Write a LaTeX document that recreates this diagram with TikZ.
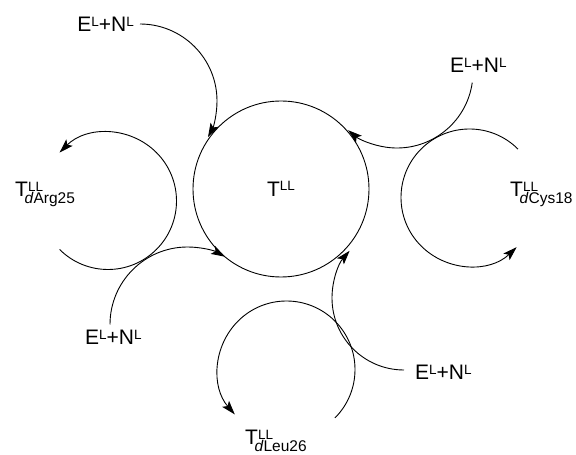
\documentclass[tikz,border=0pt]{standalone}
\usepackage{fontspec}
\setmainfont{Liberation Sans}
\usetikzlibrary{arrows.meta}
\newcommand{\supL}[1]{\raisebox{5.3pt}{\fontsize{13.5}{16}\selectfont #1}}
\newcommand{\subL}[1]{\raisebox{-7pt}{\fontsize{15.5}{18}\selectfont #1}}
\newcommand{\EN}{E\supL{L}+N\supL{L}}
\newcommand{\Tmut}[1]{T\rlap{\supL{LL}}\kern-3.5pt\subL{\textit{d}#1}}
\begin{document}
\begin{tikzpicture}[x=1pt,y=1pt,
  lab/.style={inner sep=0pt, font=\fontsize{21}{25}\selectfont},
  flow/.style={line width=0.9pt, -{Stealth[length=14pt,width=9pt,inset=3pt]}},
  ring/.style={line width=0.9pt}]
\useasboundingbox (0,0) rectangle (576,455);
% main cycle
\node[ring, draw, circle, minimum size=176pt, inner sep=0pt, font=\fontsize{21}{25}\selectfont] (T) at (281,266) {T\supL{LL}};
% labels
\node[lab, anchor=base east] (en1) at (134,423) {\EN};
\node[lab, anchor=base west] (en2) at (450,382) {\EN};
\node[lab, anchor=base west] (en3) at (85,110) {\EN};
\node[lab, anchor=base west] (en4) at (415,75) {\EN};
\node[lab, anchor=base west] (arg) at (15,258) {\Tmut{Arg25}};
\node[lab, anchor=base west] (cys) at (510,258) {\Tmut{Cys18}};
\node[lab, anchor=base west] (leu) at (245,10) {\Tmut{Leu26}};
% centres of arcs
\coordinate (cArg) at (108,254);
\coordinate (cCys) at (469.5,257.5);
\coordinate (cLeu) at (286.5,85.5);
\coordinate (c1) at (140,354);
\coordinate (c2) at (397,383);
\coordinate (c3) at (187.5,130.5);
\coordinate (c4) at (404,157);
% side cycles
\draw[flow] (cArg) ++(225:68.5) arc[start angle=225,end angle=495,radius=68.5];
\draw[flow] (cCys) ++(45:68.5) arc[start angle=45,end angle=313.5,radius=68.5];
\draw[flow] (cLeu) ++(-45:68.5) arc[start angle=-45,end angle=221,radius=68.5];
% incoming E+N
\draw[flow] (c1) ++(90:77) arc[start angle=90,end angle=-28,radius=77];
\draw[flow] (c2) ++(-8:76) arc[start angle=-8,end angle=-130,radius=76];
\draw[flow] (c3) ++(180:77.5) arc[start angle=180,end angle=61,radius=77.5];
\draw[flow] (c4) ++(270:72) arc[start angle=270,end angle=139,radius=72];
\end{tikzpicture}
\end{document}
